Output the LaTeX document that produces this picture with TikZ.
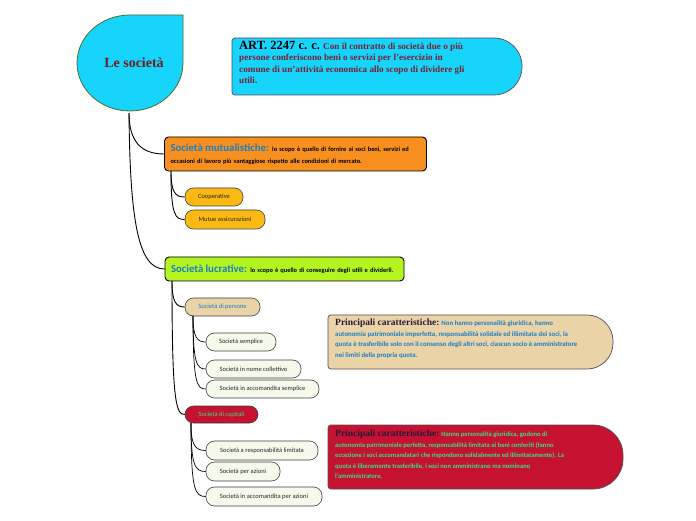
\documentclass[tikz,border=0pt]{standalone}
\usepackage{fontspec}
\setmainfont{Liberation Serif}
\newfontfamily\cond{Carlito}
\definecolor{cyanf}{HTML}{16D4FB}
\definecolor{olivb}{HTML}{4E6E22}
\definecolor{artb}{HTML}{5A4A58}
\definecolor{socred}{HTML}{6E1C22}
\definecolor{artred}{HTML}{7A2030}
\definecolor{orangef}{HTML}{F7901E}
\definecolor{yelf}{HTML}{FDB913}
\definecolor{limef}{HTML}{B3F520}
\definecolor{beigef}{HTML}{EAD3A6}
\definecolor{lightf}{HTML}{F6FAEB}
\definecolor{crimf}{HTML}{C41230}
\definecolor{bluet}{HTML}{1C7EC4}
\definecolor{greent}{HTML}{3EDC86}
\definecolor{darkt}{HTML}{2A1838}
\newcommand{\rrbox}[6]{\draw[#1] (#2+3,#3) -- (#4-#6,#3) arc[start angle=-90,end angle=0,radius=#6pt] -- (#4,#5-#6) arc[start angle=0,end angle=90,radius=#6pt] -- (#2+3,#5) arc[start angle=90,end angle=180,radius=3pt] -- (#2,#3+3) arc[start angle=180,end angle=270,radius=3pt] -- cycle;}
\tikzset{
  conn/.style={draw=black, line width=0.9pt},
  pill/.style={rounded corners=8.5pt, draw=black!75, line width=0.6pt, minimum height=18pt, inner sep=0pt, font=\cond\fontsize{6.5}{7}\selectfont, text=black!85},
  mainbox/.style={draw=black, line width=0.9pt, rounded corners=4pt, inner xsep=6pt, inner ysep=0pt, align=left},
  small/.style={font=\cond\bfseries\fontsize{6.4}{12}\selectfont},
  infotext/.style={anchor=north west, inner sep=0pt, align=left, font=\cond\bfseries\fontsize{6.8}{10.5}\selectfont},
}
\newcommand{\ttl}[1]{{\cond\bfseries\fontsize{10.8}{11}\selectfont\color{bluet}#1}}
\newcommand{\pc}{{\rmfamily\bfseries\fontsize{9.5}{10}\selectfont\color{darkt}Principali caratteristiche:}}
\begin{document}
\begin{tikzpicture}[x=1pt,y=1pt]
\useasboundingbox[fill=white] (0,0) rectangle (696,520);
% root
\draw[fill=cyanf, draw=olivb, line width=0.8pt] (183,505) -- (183,457) arc[start angle=0,end angle=-270,x radius=53pt,y radius=48pt] -- cycle;
\node[font=\bfseries\fontsize{14}{16}\selectfont, text=socred] (soc) at (134,457) {Le società};
\coordinate (socb) at (129,407);
% article box
\rrbox{fill=cyanf,draw=artb,line width=0.7pt}{232}{425}{522}{482}{28}
\node[anchor=north west, inner sep=0pt, align=left, text=artred, font=\bfseries\fontsize{9.2}{11.3}\selectfont] (art) at (239,479)
 {{\color{black}\fontsize{12.5}{11.3}\selectfont ART. 2247 c. c.} Con il contratto di società due o più\\
  persone conferiscono beni o servizi per l'esercizio in\\
  comune di un'attività economica allo scopo di dividere gli\\
  utili.};
% mutualistiche
\node[mainbox, fill=orangef, text width=250pt, minimum height=34pt, small] (mut) at (295.5,366)
 {\ttl{Società mutualistiche:} lo scopo è quello di fornire ai soci beni, servizi ed\\
  occasioni di lavoro più vantaggiose rispetto alle condizioni di mercato.};
\node[pill, fill=yelf, minimum width=58pt] (coop) at (214,323) {Cooperative};
\node[pill, fill=yelf, minimum width=80pt, minimum height=19pt] (mutue) at (225,300.5) {Mutue assicurazioni};
% lucrative
\node[mainbox, fill=limef, text width=227pt, minimum height=24pt, small] (luc) at (284.5,251)
 {\mbox{\ttl{Società lucrative:} lo scopo è quello di conseguire degli utili e dividerli.}};
\node[pill, fill=beigef, text=bluet, minimum width=75pt] (pers) at (222.5,213) {Società di persone};
\node[pill, fill=lightf, minimum width=70pt] (sempl) at (241,178) {Società semplice};
\node[pill, fill=lightf, minimum width=95pt] (nome) at (253.5,151) {Società in nome collettivo};
\node[pill, fill=lightf, minimum width=113pt] (accs) at (262.5,131) {Società in accomandita semplice};
\node[pill, fill=crimf, text=greent, minimum width=73pt, minimum height=17pt] (cap) at (221.5,105.5) {Società di capitali};
\node[pill, fill=lightf, minimum width=112pt, minimum height=19pt] (srl) at (262,69.5) {Società a responsabilità limitata};
\node[pill, fill=lightf, minimum width=74pt, minimum height=19pt] (spa) at (243,48.5) {Società per azioni};
\node[pill, fill=lightf, minimum width=116pt, minimum height=19pt] (sapa) at (264,23.5) {Società in accomandita per azioni};
% info boxes
\rrbox{fill=beigef,draw=artb,line width=0.7pt}{328}{151}{613}{205}{26}
\node[infotext, text=bluet] (ipers) at (335,201)
 {\pc{} Non hanno personalità giuridica, hanno\\
  autonomia patrimoniale imperfetta, responsabilità solidale ed illimitata dei soci, la\\
  quota è trasferibile solo con il consenso degli altri soci, ciascun socio è amministratore\\
  nei limiti della propria quota.};
\rrbox{fill=crimf,draw=artb,line width=0.7pt}{328}{31}{623}{95}{30}
\node[infotext, text=greent, font=\cond\bfseries\fontsize{6.6}{10.5}\selectfont] (icap) at (335,90)
 {\pc{} Hanno personalità giuridica, godono di\\
  autonomia patrimoniale perfetta, responsabilità limitata ai beni conferiti (fanno\\
  eccezione i soci accomandatari che rispondono solidalmente ed illimitatamente). La\\
  quota è liberamente trasferibile, i soci non amministrano ma nominano\\
  l'amministratore.};
% connectors
\draw[conn] (socb) .. controls (129,380) and (140,366) .. (mut.west);
\draw[conn] (socb) .. controls (130,300) and (138,251) .. (luc.west);
\coordinate (m0) at (171,349);
\draw[conn] (m0) .. controls (171,328) and (175,323) .. (coop.west);
\draw[conn] (m0) .. controls (171,305) and (175,300.5) .. (mutue.west);
\coordinate (l0) at (172,239);
\draw[conn] (l0) .. controls (172,218) and (176,213) .. (pers.west);
\draw[conn] (l0) .. controls (172,118) and (176,105.5) .. (cap.west);
\coordinate (p0) at (193,204);
\draw[conn, line width=0.7pt] (p0) .. controls (193,183) and (197,178) .. (sempl.west);
\draw[conn, line width=0.7pt] (p0) .. controls (193,156) and (197,151) .. (nome.west);
\draw[conn, line width=0.7pt] (p0) .. controls (193,136) and (197,131) .. (accs.west);
\coordinate (c0) at (191,97);
\draw[conn, line width=0.7pt] (c0) .. controls (191,75) and (195,69.5) .. (srl.west);
\draw[conn, line width=0.7pt] (c0) .. controls (191,54) and (195,48.5) .. (spa.west);
\draw[conn, line width=0.7pt] (c0) .. controls (191,29) and (195,23.5) .. (sapa.west);
\end{tikzpicture}
\end{document}
